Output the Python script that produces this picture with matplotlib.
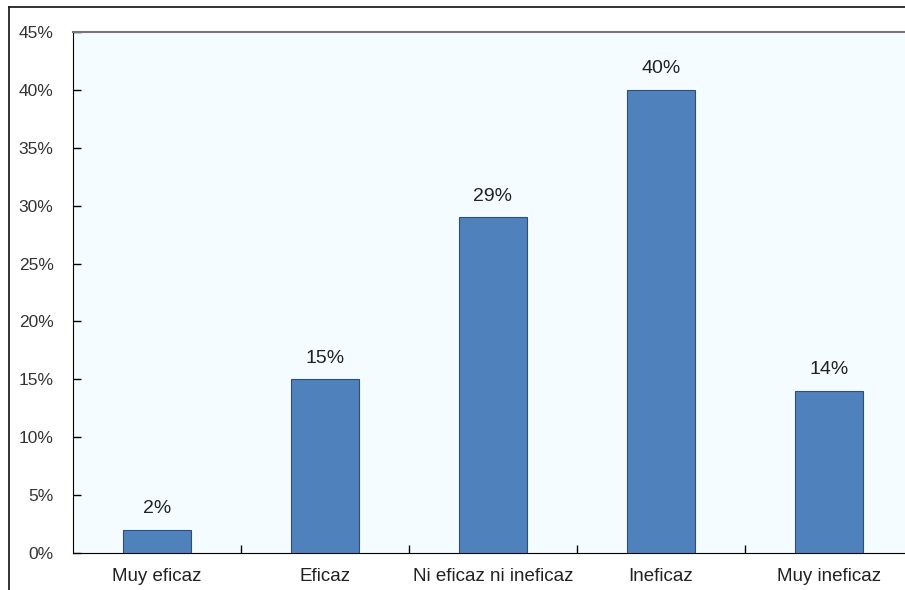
import matplotlib.pyplot as plt
from matplotlib.lines import Line2D
from matplotlib.ticker import FixedLocator, FuncFormatter

# Data
categories = ["Muy eficaz", "Eficaz", "Ni eficaz ni ineficaz", "Ineficaz", "Muy ineficaz"]
values = [2, 15, 29, 40, 14]
yticks = [0, 5, 10, 15, 20, 25, 30, 35, 40, 45]

plt.rcParams['font.family'] = ['Liberation Sans', 'DejaVu Sans']

fig = plt.figure(figsize=(9.05, 5.9), dpi=100)
fig.patch.set_facecolor('white')

# axes runs a bit past the right edge of the figure, like the cropped source
ax = fig.add_axes([73 / 905, 37 / 590, 840 / 905, 521 / 590])
ax.set_facecolor('#F4FCFF')

x = list(range(len(categories)))
ax.bar(x, values, width=0.405, color='#4F81BD', edgecolor='#2E4F7A', linewidth=0.8, zorder=3)

for xi, v in zip(x, values):
    ax.annotate(f"{v}%", (xi, v), xytext=(0, 9), textcoords='offset points',
                ha='center', va='bottom', fontsize=14, color='#222222')

ax.set_xlim(-0.5, len(categories) - 0.5)
ax.set_ylim(0, 45)
ax.set_yticks(yticks)
ax.yaxis.set_major_formatter(FuncFormatter(lambda v, p: f"{v:.0f}%"))
ax.tick_params(axis='y', direction='in', length=6, width=1, pad=14, labelsize=12.5, labelcolor='#333333')

# ticks between categories, labels at centres
ax.xaxis.set_major_locator(FixedLocator([i + 0.5 for i in x[:-1]]))
ax.xaxis.set_major_formatter(FuncFormatter(lambda v, p: ""))
ax.xaxis.set_minor_locator(FixedLocator(x))
ax.set_xticklabels(categories, minor=True)
ax.tick_params(axis='x', which='major', direction='in', length=6, width=1)
ax.tick_params(axis='x', which='minor', length=0, pad=11, labelsize=13.5, labelcolor='#222222')

ax.spines['left'].set_color('black')
ax.spines['bottom'].set_color('black')
ax.spines['top'].set_color('#777777')
ax.spines['top'].set_linewidth(1.5)
ax.spines['right'].set_visible(False)

# outer frame lines (top and left) of the original image
fig.add_artist(Line2D([9 / 905, 1], [1 - 7 / 590, 1 - 7 / 590], color='#222222', lw=1.3))
fig.add_artist(Line2D([9 / 905, 9 / 905], [0, 1 - 7 / 590], color='#222222', lw=1.3))

fig.savefig("out.png", dpi=100)
